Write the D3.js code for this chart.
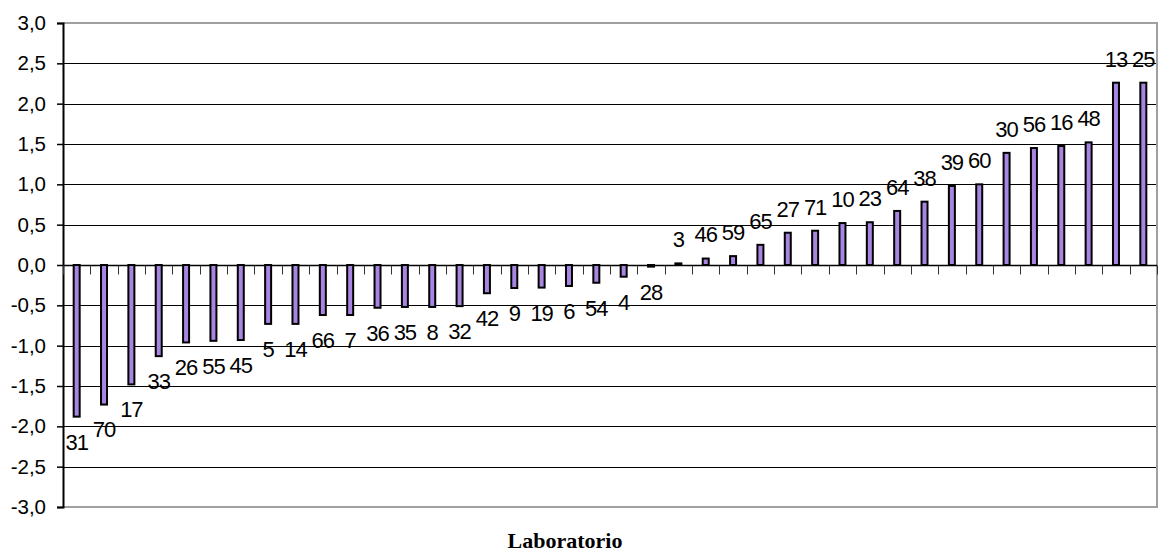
<!DOCTYPE html>
<html>
<head>
<meta charset="utf-8">
<script src="https://cdn.jsdelivr.net/npm/d3@7"></script>
<style>
  body { margin: 0; background: #fff; }
  svg { display: block; }
</style>
</head>
<body>
<svg id="chart" width="1158" height="552"></svg>
<script>
const labs = ["31","70","17","33","26","55","45","5","14","66","7","36","35","8","32","42","9","19","6","54","4","28",
              "3","46","59","65","27","71","10","23","64","38","39","60","30","56","16","48","13","25"];
const values = [-1.88,-1.73,-1.48,-1.13,-0.96,-0.94,-0.93,-0.73,-0.73,-0.62,-0.62,-0.53,-0.52,-0.52,-0.51,-0.35,-0.285,-0.28,-0.26,-0.22,-0.145,-0.02,
                0.02,0.08,0.11,0.25,0.40,0.425,0.52,0.53,0.67,0.785,0.98,1.00,1.39,1.45,1.475,1.52,2.26,2.26];
const yTicks = [-3,-2.5,-2,-1.5,-1,-0.5,0,0.5,1,1.5,2,2.5,3];
const xTitle = "Laboratorio";

const svg = d3.select("#chart");
const L = 63, R = 1157, T = 23, B = 507;
const x = d3.scaleBand().domain(labs.map((d,i)=>i)).range([L, R]).padding(0);
const y = d3.scaleLinear().domain([-3, 3]).range([B, T]);
const fmt = v => d3.format(".1f")(v).replace(".", ",").replace("−", "-");

// gridlines
svg.append("g").selectAll("line").data(yTicks.filter(v => v > -3 && v < 3))
  .join("line")
  .attr("x1", L).attr("x2", R)
  .attr("y1", d => Math.round(y(d)) + 0.5).attr("y2", d => Math.round(y(d)) + 0.5)
  .attr("stroke", "#000").attr("stroke-width", 1);

// plot border (top, right, bottom grey)
svg.append("path")
  .attr("d", `M${L},${T} H${R} V${B} H${L}`)
  .attr("fill", "none").attr("stroke", "#a0a0a0").attr("stroke-width", 2);

// y axis
const yAxis = d3.axisLeft(y).tickValues(yTicks).tickFormat(fmt).tickSize(6).tickPadding(11);
const gy = svg.append("g").attr("transform", `translate(${L},0)`).call(yAxis);
gy.select(".domain").attr("stroke", "#000").attr("stroke-width", 2);
gy.selectAll(".tick line").attr("stroke", "#000").attr("stroke-width", 1.5);
gy.selectAll(".tick text").attr("font-family", "'Liberation Sans', Arial, sans-serif")
  .attr("font-size", 20.5).attr("fill", "#000");

// x axis at zero with ticks at category boundaries
const y0 = Math.round(y(0)) + 0.5;
svg.append("line").attr("x1", L).attr("x2", R).attr("y1", y0).attr("y2", y0)
  .attr("stroke", "#000").attr("stroke-width", 1.5);
svg.append("g").selectAll("line").data(d3.range(labs.length + 1))
  .join("line")
  .attr("x1", i => Math.round(L + i * x.step()) + 0.5)
  .attr("x2", i => Math.round(L + i * x.step()) + 0.5)
  .attr("y1", y0).attr("y2", y0 + 9)
  .attr("stroke", "#333").attr("stroke-width", 1);

// bars
const bw = 6;
svg.append("g").selectAll("rect").data(values)
  .join("rect")
  .attr("x", (d,i) => x(i) + x.bandwidth()/2 - bw/2)
  .attr("y", d => Math.min(y(d), y(0)))
  .attr("width", bw)
  .attr("height", d => Math.max(1, Math.abs(y(d) - y(0))))
  .attr("fill", "#a785e0")
  .attr("stroke", "#000").attr("stroke-width", 2);

// data labels
svg.append("g").selectAll("text").data(values)
  .join("text")
  .attr("x", (d,i) => x(i) + x.bandwidth()/2)
  .attr("y", d => d < 0 ? y(d) + 25 : y(d) - 24)
  .attr("dy", "0.36em")
  .attr("text-anchor", "middle")
  .attr("font-family", "'Liberation Sans', Arial, sans-serif")
  .attr("font-size", 22)
  .attr("letter-spacing", "-1px")
  .attr("fill", "#000")
  .text((d,i) => labs[i]);

// x title
svg.append("text")
  .attr("x", 565).attr("y", 548)
  .attr("text-anchor", "middle")
  .attr("font-family", "'Liberation Serif', 'Times New Roman', serif")
  .attr("font-weight", "bold").attr("font-size", 22)
  .attr("fill", "#000")
  .text(xTitle);
</script>
</body>
</html>
